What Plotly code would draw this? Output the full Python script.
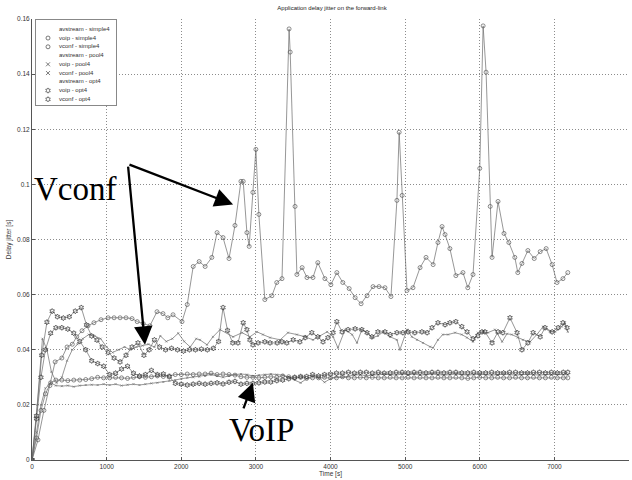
import plotly.graph_objects as go

# ---------------- data ----------------
vconf_simple4_t = [0,80,160,240,310,400,470,540,600,670,750,830,925,1020,1100,1180,1260,1340,1410,1490,
                   1580,1675,1755,1820,1890,2010,2080,2160,2240,2320,2410,2480,2560,2640,2720,2800,2830,2880,2910,2960,
                   3000,3040,3120,3215,3280,3350,3445,3460,3525,3550,3620,3685,3765,3830,3925,4005,4085,4165,4250,4330,
                   4410,4490,4570,4650,4730,4810,4890,4920,4960,5025,5105,5200,5280,5375,5440,5495,5535,5600,5680,5775,
                   5840,5910,6000,6045,6085,6140,6165,6245,6325,6390,6470,6510,6565,6645,6730,6810,6890,6970,7035,7115,7180]
vconf_simple4_y = [0,0.0073,0.018,0.027,0.0356,0.037,0.041,0.042,0.0447,0.0469,0.0487,0.0498,0.0509,0.0516,0.0516,0.0516,0.0516,0.0513,0.0502,0.0495,
                   0.0487,0.0538,0.0531,0.0516,0.0527,0.0502,0.0564,0.0702,0.072,0.0702,0.0735,0.0825,0.0807,0.0731,0.0851,0.1011,0.1011,0.0825,0.0775,0.0971,
                   0.1127,0.0891,0.0582,0.0596,0.0644,0.0658,0.1564,0.148,0.092,0.0673,0.0698,0.0662,0.0662,0.0716,0.0658,0.0636,0.068,0.0644,0.0622,0.0589,
                   0.0567,0.0596,0.0629,0.0629,0.0625,0.0593,0.0942,0.1189,0.096,0.0615,0.0625,0.0698,0.0735,0.0709,0.0789,0.0847,0.0818,0.0767,0.0669,0.068,
                   0.0625,0.0673,0.1058,0.1575,0.1407,0.092,0.0735,0.0938,0.0822,0.0789,0.0735,0.068,0.0713,0.076,0.0731,0.0756,0.0767,0.0709,0.0644,0.0658,0.068]

vconf_opt4_t = [0,60,130,200,270,340,420,500,580,660,730,800,870,940,1020,1100,1180,1260,1340,1420,
                1500,1570,1640,1710,1790,1870,1950,2030,2110,2190,2270,2350,2430,2500,2560,2620,2690,2760,
                2830,2880,2920,2960,3030,3120,3190,3285,3350,3415,3500,3590,3660,3750,3830,3900,3965,4035,4085,4155,
                4235,4330,4420,4490,4555,4635,4730,4800,4890,4970,5040,5130,5225,5295,5360,5440,5535,5600,5680,5760,
                5830,5910,5975,6030,6070,6165,6245,6310,6405,6500,6565,6645,6715,6810,6875,6970,7050,7115,7170]
vconf_opt4_y = [0,0.016,0.038,0.050,0.054,0.052,0.0515,0.052,0.054,0.0553,0.049,0.045,0.0435,0.041,0.039,0.037,0.0356,0.038,0.041,0.0425,
                0.038,0.040,0.0436,0.041,0.040,0.0405,0.040,0.0395,0.040,0.040,0.0402,0.040,0.0405,0.043,0.0553,0.047,0.0425,0.0425,
                0.0498,0.0473,0.0436,0.0418,0.0425,0.0429,0.0425,0.0425,0.0429,0.0425,0.0436,0.0429,0.0444,0.0462,0.0447,0.0429,0.0444,0.0462,0.0502,0.0465,
                0.0473,0.0476,0.0473,0.0462,0.0447,0.0465,0.0465,0.0455,0.0462,0.0462,0.0465,0.0462,0.0465,0.0462,0.048,0.0498,0.0491,0.0498,0.0502,0.0484,
                0.0465,0.044,0.0451,0.0465,0.0465,0.0425,0.0465,0.0462,0.0516,0.0462,0.040,0.0425,0.0462,0.0447,0.048,0.0465,0.048,0.0498,0.048]

vconf_pool4_t = [0,70,140,200,260,330,400,470,540,610,680,760,840,920,1000,1080,1160,1240,1320,1400,
                 1480,1560,1640,1720,1800,1880,1960,2040,2120,2200,
                 2250,2345,2425,2520,2695,2815,2920,3015,3095,3190,3325,3430,3550,3660,3765,3860,3955,4035,4100,4195,
                 4290,4355,4420,4490,4555,4635,4705,4800,4890,4930,5025,5090,5160,5240,5335,5375,5440,5505,5575,5670,
                 5760,5830,5910,5975,6045,6110,6205,6300,6365,6430,6510,6580,6675,6765,6850,6940,7010,7100,7140,7180]
vconf_pool4_y = [0,0.02,0.044,0.040,0.032,0.028,0.030,0.036,0.040,0.042,0.044,0.0455,0.045,0.044,0.041,0.039,0.040,0.041,0.040,0.041,
                 0.0415,0.042,0.041,0.045,0.043,0.044,0.046,0.043,0.041,0.044,
                 0.0436,0.0418,0.0447,0.0473,0.0447,0.0462,0.0447,0.0465,0.0455,0.0444,0.0436,0.0462,0.0455,0.0447,0.0436,0.045,0.0465,0.0447,0.0407,0.0473,
                 0.0455,0.0425,0.0473,0.0462,0.0444,0.045,0.0465,0.0447,0.0436,0.040,0.0473,0.0447,0.0436,0.0425,0.0411,0.0407,0.0436,0.0455,0.0455,0.0462,
                 0.0455,0.0444,0.0429,0.0462,0.0465,0.0462,0.0473,0.0429,0.0458,0.0455,0.0444,0.0436,0.0429,0.0455,0.0484,0.0465,0.0465,0.0484,0.0498,0.0465]

voip_t = [0,60,120,180,250,320,400,480,560,640,720,800,880,960,1040,1120,1200,1280,1360,1440,
          1520,1600,1680,1760,1840,1920,2000,2080,2160,2240,2320,2400,2480,2560,2640,2720,2800,2880,2960,3040,
          3120,3200,3280,3360,3440,3520,3600,3680,3760,3840,3920,4000,4080,4160,4240,4320,4400,4480,4560,4640,
          4720,4800,4880,4960,5040,5120,5200,5280,5360,5440,5520,5600,5680,5760,5840,5920,6000,6080,6160,6240,
          6320,6400,6480,6560,6640,6720,6800,6880,6960,7040,7120,7180]
voip_simple4_y = [0,0.008,0.018,0.024,0.028,0.029,0.029,0.0288,0.029,0.029,0.0292,0.0295,0.030,0.0298,0.0298,0.030,0.0298,0.0296,0.030,0.0302,
                  0.030,0.0302,0.0305,0.0303,0.0305,0.031,0.031,0.0312,0.031,0.0312,0.0312,0.0315,0.031,0.0312,0.031,0.0308,0.0302,0.030,0.030,0.0298,
                  0.030,0.0302,0.030,0.0305,0.0302,0.0298,0.030,0.0296,0.0298,0.0298,0.030,0.0298,0.0298,0.0302,0.0298,0.0298,0.030,0.0298,0.030,0.0298,
                  0.0298,0.030,0.0298,0.0298,0.030,0.0298,0.030,0.0298,0.0298,0.030,0.0298,0.0298,0.030,0.0298,0.0296,0.0298,0.030,0.0298,0.0298,0.030,
                  0.0298,0.0298,0.030,0.0298,0.0298,0.030,0.0298,0.0298,0.030,0.0298,0.0298,0.0298]
voip_opt4_y = [0,0.015,0.030,0.040,0.046,0.048,0.048,0.0475,0.046,0.043,0.040,0.036,0.035,0.034,0.031,0.0315,0.033,0.034,0.0315,0.0305,
               0.031,0.0325,0.031,0.0312,0.0302,0.0278,0.0275,0.0272,0.0275,0.0278,0.0275,0.0278,0.028,0.0276,0.0282,0.0285,0.0275,0.0278,0.0278,0.028,
               0.0283,0.0283,0.0288,0.029,0.0295,0.030,0.0303,0.0303,0.031,0.0305,0.031,0.0312,0.0315,0.0315,0.0318,0.0315,0.0318,0.0318,0.0315,0.0318,
               0.0315,0.0316,0.0318,0.0318,0.0316,0.0318,0.0318,0.0316,0.0318,0.0318,0.0316,0.0318,0.0318,0.0316,0.0316,0.0318,0.0316,0.0316,0.0318,0.0316,
               0.0316,0.0318,0.0318,0.0316,0.0316,0.0318,0.0318,0.0316,0.0318,0.0316,0.0318,0.0318]
voip_pool4_y = [0,0.010,0.020,0.026,0.028,0.027,0.0268,0.027,0.0266,0.027,0.0272,0.0273,0.0272,0.0275,0.0272,0.0275,0.027,0.0273,0.0275,0.0272,
                0.0275,0.0278,0.028,0.0283,0.0287,0.029,0.0295,0.0298,0.030,0.0302,0.0305,0.031,0.0305,0.030,0.0305,0.031,0.0312,0.031,0.0305,0.0308,
                0.031,0.0312,0.031,0.0308,0.030,0.029,0.028,0.0295,0.0305,0.030,0.0282,0.0295,0.0302,0.030,0.0305,0.0308,0.031,0.0305,0.0308,0.031,
                0.0312,0.031,0.0308,0.0312,0.031,0.0312,0.0308,0.031,0.0312,0.031,0.0308,0.031,0.0312,0.031,0.0308,0.031,0.0312,0.031,0.0308,0.031,
                0.0312,0.031,0.0308,0.031,0.0312,0.031,0.0308,0.031,0.031,0.0312,0.031,0.031]

legend_labels = ["avstream - simple4", "voip - simple4", "vconf - simple4",
                 "avstream - pool4", "voip - pool4", "vconf - pool4",
                 "avstream - opt4", "voip - opt4", "vconf - opt4"]
legend_symbols = [None, "circle-open", "circle-open", None, "x-thin-open", "x-thin-open",
                  None, "hexagram-open", "hexagram-open"]

x_ticks = [0, 1000, 2000, 3000, 4000, 5000, 6000, 7000, 8000]
y_ticks = [0, 0.02, 0.04, 0.06, 0.08, 0.1, 0.12, 0.14, 0.16]
y_tick_text = ["0", "0.02", "0.04", "0.06", "0.08", "0.1", "0.12", "0.14", "0.16"]

# ---------------- figure ----------------
LINE = "#6a6a6a"
fig = go.Figure()

def add(t, y, symbol, size, mcolor, lcolor=LINE, lw=0.7):
    fig.add_trace(go.Scatter(
        x=t, y=y, mode="lines+markers",
        line=dict(color=lcolor, width=lw),
        marker=dict(symbol=symbol, size=size, color=mcolor, line=dict(width=0.7, color=mcolor)),
        showlegend=False, hoverinfo="skip"))

add(voip_t, voip_pool4_y, "x-thin-open", 2, "#777777")
add(vconf_pool4_t, vconf_pool4_y, "x-thin-open", 2, "#777777")
add(voip_t, voip_simple4_y, "circle-open", 4, "#5a5a5a")
add(voip_t, voip_opt4_y, "hexagram-open", 4, "#333333")
add(vconf_opt4_t, vconf_opt4_y, "hexagram-open", 4, "#333333")
add(vconf_simple4_t, vconf_simple4_y, "circle-open", 4, "#5a5a5a")

# manual legend in an inset subplot (Plotly's own legend rows are too tall)
rows = [9.3 + 8.75 * i for i in range(len(legend_labels))]
mk_x, mk_y, mk_s = [], [], []
for r, s in zip(rows, legend_symbols):
    if s:
        mk_x.append(12); mk_y.append(r); mk_s.append(s)
fig.add_trace(go.Scatter(x=mk_x, y=mk_y, mode="markers", xaxis="x2", yaxis="y2",
                         marker=dict(symbol=mk_s, size=4, color="#444444", line=dict(width=0.7, color="#444444")),
                         showlegend=False, hoverinfo="skip"))
fig.add_trace(go.Scatter(x=[23] * len(rows), y=rows, mode="text", text=legend_labels,
                         textposition="middle right", xaxis="x2", yaxis="y2",
                         textfont=dict(family="Liberation Sans, Arial", size=6, color="#333333"),
                         showlegend=False, hoverinfo="skip"))

W, H = 632, 480
ML, MR, MT, MB = 32, 3, 19, 20
pw, ph = W - ML - MR, H - MT - MB
def px_x(p): return (p - ML) / pw
def px_y(p): return (H - MB - p) / ph

axis_font = dict(family="Liberation Sans, Arial", size=6.5, color="#333333")
GRID = dict(showgrid=True, gridcolor="#8c8c8c", griddash="1px,2px", gridwidth=1, zeroline=False)
fig.update_layout(
    width=W, height=H,
    margin=dict(l=ML, r=MR, t=MT, b=MB, pad=0),
    paper_bgcolor="white", plot_bgcolor="white",
    title=dict(text="Application delay jitter on the forward-link", x=332 / W, xanchor="center",
               y=1 - 8 / H, yanchor="middle", yref="container",
               font=dict(family="Liberation Sans, Arial", size=6, color="#222222")),
    xaxis=dict(range=[0, 8000], tickvals=x_ticks, ticks="inside", ticklen=3, tickcolor="#555555",
               showline=True, linecolor="#555555", linewidth=1, mirror=False,
               tickfont=axis_font, automargin=False,
               title=dict(text="Time [s]", font=axis_font, standoff=1), **GRID),
    yaxis=dict(range=[0, 0.16], tickvals=y_ticks, ticktext=y_tick_text, ticks="inside", ticklen=3,
               tickcolor="#555555", showline=True, linecolor="#555555", linewidth=1, mirror=False,
               tickfont=axis_font, automargin=False,
               title=dict(text="Delay jitter [s]", font=axis_font, standoff=4), **GRID),
    xaxis2=dict(domain=[px_x(36), px_x(116)], range=[0, 80], anchor="y2", visible=True,
                showgrid=False, zeroline=False, showticklabels=False, ticks="",
                showline=True, mirror=True, linecolor="#888888", linewidth=1, fixedrange=True),
    yaxis2=dict(domain=[px_y(105), px_y(20)], range=[85, 0], anchor="x2", visible=True,
                showgrid=False, zeroline=False, showticklabels=False, ticks="",
                showline=True, mirror=True, linecolor="#888888", linewidth=1, fixedrange=True),
    showlegend=False,
)

serif = dict(family="Liberation Serif, Times New Roman", size=33, color="black")
arrow = dict(xref="x", yref="y", axref="x", ayref="y", showarrow=True, arrowhead=2,
             arrowsize=1.6, arrowwidth=2.3, arrowcolor="black", text="", standoff=0)
fig.add_annotation(x=2695, y=0.0927, ax=1286, ay=0.1074, **arrow)
fig.add_annotation(x=1514, y=0.0418, ax=1286, ay=0.1070, **arrow)
fig.add_annotation(x=2960, y=0.028, ax=2827, ay=0.0182, **arrow)
fig.add_annotation(x=570, y=0.0985, xref="x", yref="y", text="Vconf", showarrow=False, font=serif)
fig.add_annotation(x=3070, y=0.0109, xref="x", yref="y", text="VoIP", showarrow=False, font=serif)

fig.write_html("out.html")
